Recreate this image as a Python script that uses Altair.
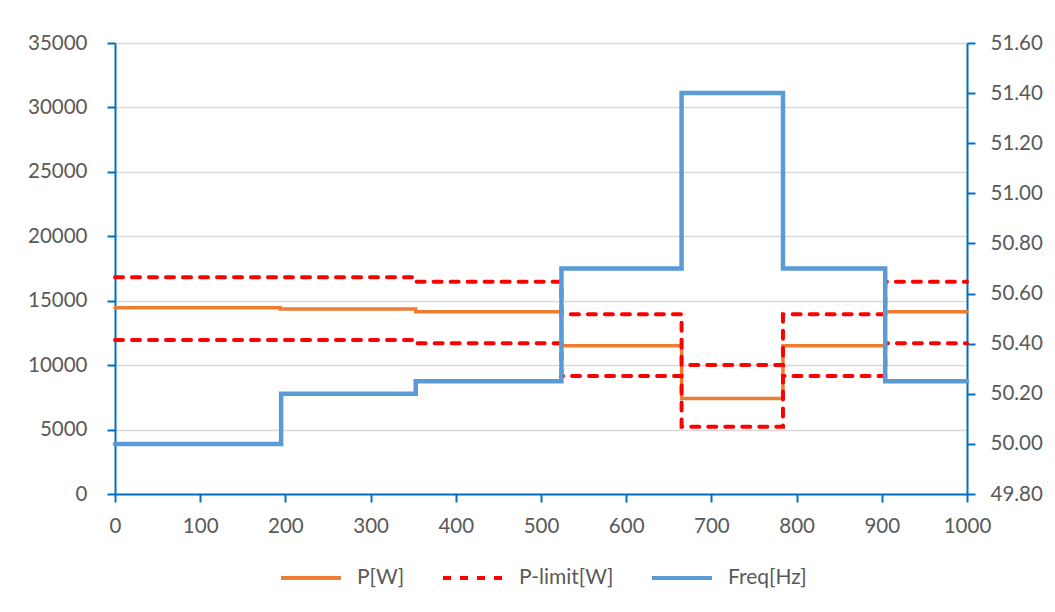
import altair as alt
import pandas as pd

# ---- data ----
series_names = ["P[W]", "P-limit[W]", "Freq[Hz]"]
series_colors = ["#ED7D31", "#FF0000", "#5B9BD5"]
series_dashes = [[1, 0], [8, 9], [1, 0]]

x_ticks = [0, 100, 200, 300, 400, 500, 600, 700, 800, 900, 1000]
left_ticks = [0, 5000, 10000, 15000, 20000, 25000, 30000, 35000]
right_ticks = [49.8, 50.0, 50.2, 50.4, 50.6, 50.8, 51.0, 51.2, 51.4, 51.6]

freq_t = [0, 195, 353, 524, 665, 784, 904, 1000]
freq_v = [50.00, 50.20, 50.25, 50.70, 51.40, 50.70, 50.25, 50.25]

p_t = [0, 194, 353, 524, 665, 784, 904, 1000]
p_v = [14460, 14360, 14150, 11510, 7420, 11510, 14150, 14150]

lim_t = [0, 353, 524, 665, 784, 904, 1000]
lim_hi = [16820, 16480, 13940, 10010, 13940, 16480, 16480]
lim_lo = [11950, 11690, 9160, 5220, 9160, 11690, 11690]

# ---- tables ----
p_df = pd.DataFrame({"t": p_t, "value": p_v, "series": "P[W]", "band": "p"})
lim_df = pd.concat([
    pd.DataFrame({"t": lim_t, "value": lim_hi, "series": "P-limit[W]", "band": "hi"}),
    pd.DataFrame({"t": lim_t, "value": lim_lo, "series": "P-limit[W]", "band": "lo"}),
])
f_df = pd.DataFrame({"t": freq_t, "value": freq_v, "series": "Freq[Hz]", "band": "f"})

FONT = "Lato"
LABEL_COLOR = "#595959"
AXIS_COLOR = "#0070C0"


def make_legend():
    return alt.Legend(
        title=None, orient="none", legendX=164, legendY=503,
        direction="horizontal", symbolType="stroke", symbolSize=3600,
        symbolStrokeWidth=4, labelFont=FONT, labelFontSize=21,
        labelColor=LABEL_COLOR, labelOffset=14, columnPadding=30,
    )


color_enc = alt.Color(
    "series:N",
    scale=alt.Scale(domain=series_names, range=series_colors),
    legend=make_legend(),
)
dash_enc = alt.StrokeDash(
    "series:N",
    scale=alt.Scale(domain=series_names, range=series_dashes),
    legend=make_legend(),
)

x_enc = alt.X(
    "t:Q",
    scale=alt.Scale(domain=[0, 1000], nice=False),
    axis=alt.Axis(
        values=x_ticks, format="d", title=None, grid=False,
        domainColor=AXIS_COLOR, domainWidth=2, tickColor=AXIS_COLOR,
        tickWidth=2, tickSize=8, labelPadding=14, labelFont=FONT,
        labelFontSize=20.5, labelColor=LABEL_COLOR, labelFlush=False,
        labelOverlap=False,
    ),
)

left_scale = alt.Scale(domain=[0, 35000], nice=False)
left_axis = alt.Axis(
    values=left_ticks, format="d", title=None, grid=True,
    gridColor="#D9D9D9", gridWidth=1.5, domainColor=AXIS_COLOR,
    domainWidth=2, tickColor=AXIS_COLOR, tickWidth=2, tickSize=8,
    labelPadding=20, labelFont=FONT, labelFontSize=20.5,
    labelColor=LABEL_COLOR, labelOverlap=False, labelFlush=False,
)

p_line = alt.Chart(p_df).mark_line(
    interpolate="step-after", strokeWidth=3.5, strokeCap="round"
).encode(
    x=x_enc,
    y=alt.Y("value:Q", scale=left_scale, axis=left_axis),
    color=color_enc,
    strokeDash=dash_enc,
    detail="band:N",
)

lim_line = alt.Chart(lim_df).mark_line(
    interpolate="step-after", strokeWidth=4, strokeCap="round"
).encode(
    x=x_enc,
    y=alt.Y("value:Q", scale=left_scale, axis=left_axis),
    color=color_enc,
    strokeDash=dash_enc,
    detail="band:N",
)

left = alt.layer(p_line, lim_line)

f_line = alt.Chart(f_df).mark_line(
    interpolate="step-after", strokeWidth=4.5, strokeCap="round"
).encode(
    x=x_enc,
    y=alt.Y(
        "value:Q",
        scale=alt.Scale(domain=[49.8, 51.6], nice=False, zero=False),
        axis=alt.Axis(
            values=right_ticks, format=".2f", orient="right", title=None,
            grid=False, domainColor=AXIS_COLOR, domainWidth=2,
            tickColor=AXIS_COLOR, tickWidth=2, tickSize=8, labelPadding=15,
            labelFont=FONT, labelFontSize=20.5, labelColor=LABEL_COLOR,
            labelOverlap=False, labelFlush=False,
        ),
    ),
    color=color_enc,
    strokeDash=dash_enc,
    detail="band:N",
)

chart = alt.layer(left, f_line).resolve_scale(y="independent").properties(
    width=852,
    height=451,
    autosize=alt.AutoSizeParams(type="none"),
    padding={"left": 107, "top": 35, "right": 80, "bottom": 110},
).configure_view(stroke=None).configure(background="white")

chart.save("out.html", embed_options={"renderer": "svg", "actions": False})
